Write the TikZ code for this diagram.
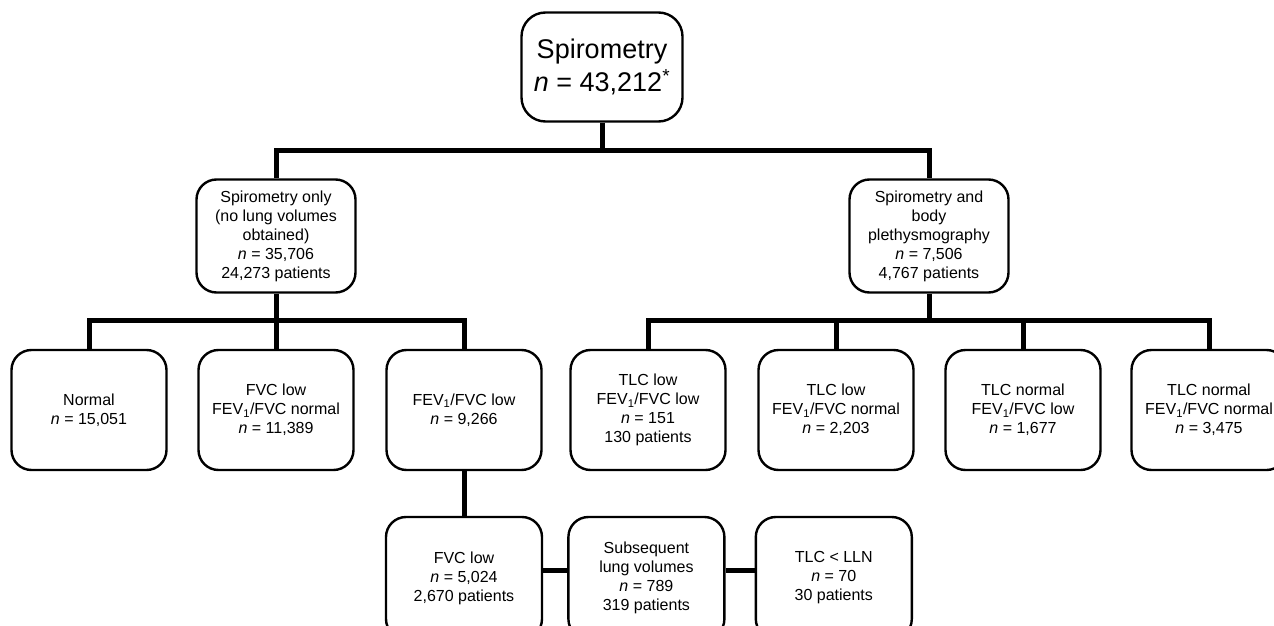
\documentclass[tikz,border=0pt]{standalone}
\usepackage{fontspec}
\setmainfont{Liberation Sans}
\usetikzlibrary{positioning}
\newcommand{\nval}{\textit{n}}
\newcommand{\fev}{FEV\textsubscript{1}}

\begin{document}
\begin{tikzpicture} [ x=1pt, y=1pt
					, box/.style={rectangle, rounded corners=20pt, draw, line width=2.4pt, align=center, inner sep=2pt, minimum width=155pt, minimum height=120pt, font=\fontsize{16}{19}\selectfont}
					, kopf/.style={box, rounded corners=24pt, minimum width=161pt, minimum height=109pt, font=\fontsize{27}{33}\selectfont}
					, stufe/.style={box, minimum width=159pt, minimum height=113pt}
					, unten/.style={box, minimum width=156pt, minimum height=122pt}
					, ast/.style={draw, line width=5pt}
					]
	\useasboundingbox (0,0) rectangle (1274,-626);

	\node (Spiro) 		[kopf] at (602,-67) {Spirometry\\\nval{} = 43,212\textsuperscript{*}};
	\node (Nur) 		[stufe] at (276,-236) {Spirometry only\\(no lung volumes\\obtained)\\\nval{} = 35,706\\24,273 patients};
	\node (Body) 		[stufe] at (929,-236) {Spirometry and\\body\\plethysmography\\\nval{} = 7,506\\4,767 patients};

	\node (Normal) 		[box] at (89,-410) {Normal\\\nval{} = 15,051};
	\node (FvcLow) 		[box] at (276,-410) {FVC low\\\fev/FVC normal\\\nval{} = 11,389};
	\node (FevLow) 		[box] at (464,-410) {\fev/FVC low\\\nval{} = 9,266};
	\node (TlcEins) 	[box] at (648,-410) {TLC low\\\fev/FVC low\\\nval{} = 151\\130 patients};
	\node (TlcZwei) 	[box] at (836,-410) {TLC low\\\fev/FVC normal\\\nval{} = 2,203};
	\node (TlcDrei) 	[box] at (1023,-410) {TLC normal\\\fev/FVC low\\\nval{} = 1,677};
	\node (TlcVier) 	[box] at (1209,-410) {TLC normal\\\fev/FVC normal\\\nval{} = 3,475};

	\node (FvcUnten) 	[unten] at (464,-578) {FVC low\\\nval{} = 5,024\\2,670 patients};
	\node (Folge) 		[unten, right=24pt of FvcUnten] {Subsequent\\lung volumes\\\nval{} = 789\\319 patients};
	\node (Lln) 		[unten, right=29pt of Folge] {TLC < LLN\\\nval{} = 70\\30 patients};

	\coordinate (OberAst) at (602,-150);
	\coordinate (LinkAst) at (276,-320);
	\coordinate (RechtsAst) at (929,-320);

	\draw [ast] (Spiro) -- (OberAst);
	\draw [ast] (Nur.north) |- (OberAst) -| (Body.north);

	\draw [ast] (Nur) -- (LinkAst);
	\draw [ast] (Normal.north) |- (LinkAst) -| (FevLow.north);
	\draw [ast] (FvcLow) -- (FvcLow |- LinkAst);

	\draw [ast] (Body) -- (RechtsAst);
	\draw [ast] (TlcEins.north) |- (RechtsAst) -| (TlcVier.north);
	\draw [ast] (TlcZwei) -- (TlcZwei |- RechtsAst);
	\draw [ast] (TlcDrei) -- (TlcDrei |- RechtsAst);

	\draw [ast] (FevLow) -- (FvcUnten);
	\draw [ast] ([yshift=8pt]FvcUnten.east) -- ([yshift=8pt]Folge.west);
	\draw [ast] ([yshift=8pt]Folge.east) -- ([yshift=8pt]Lln.west);

\end{tikzpicture}
\end{document}
